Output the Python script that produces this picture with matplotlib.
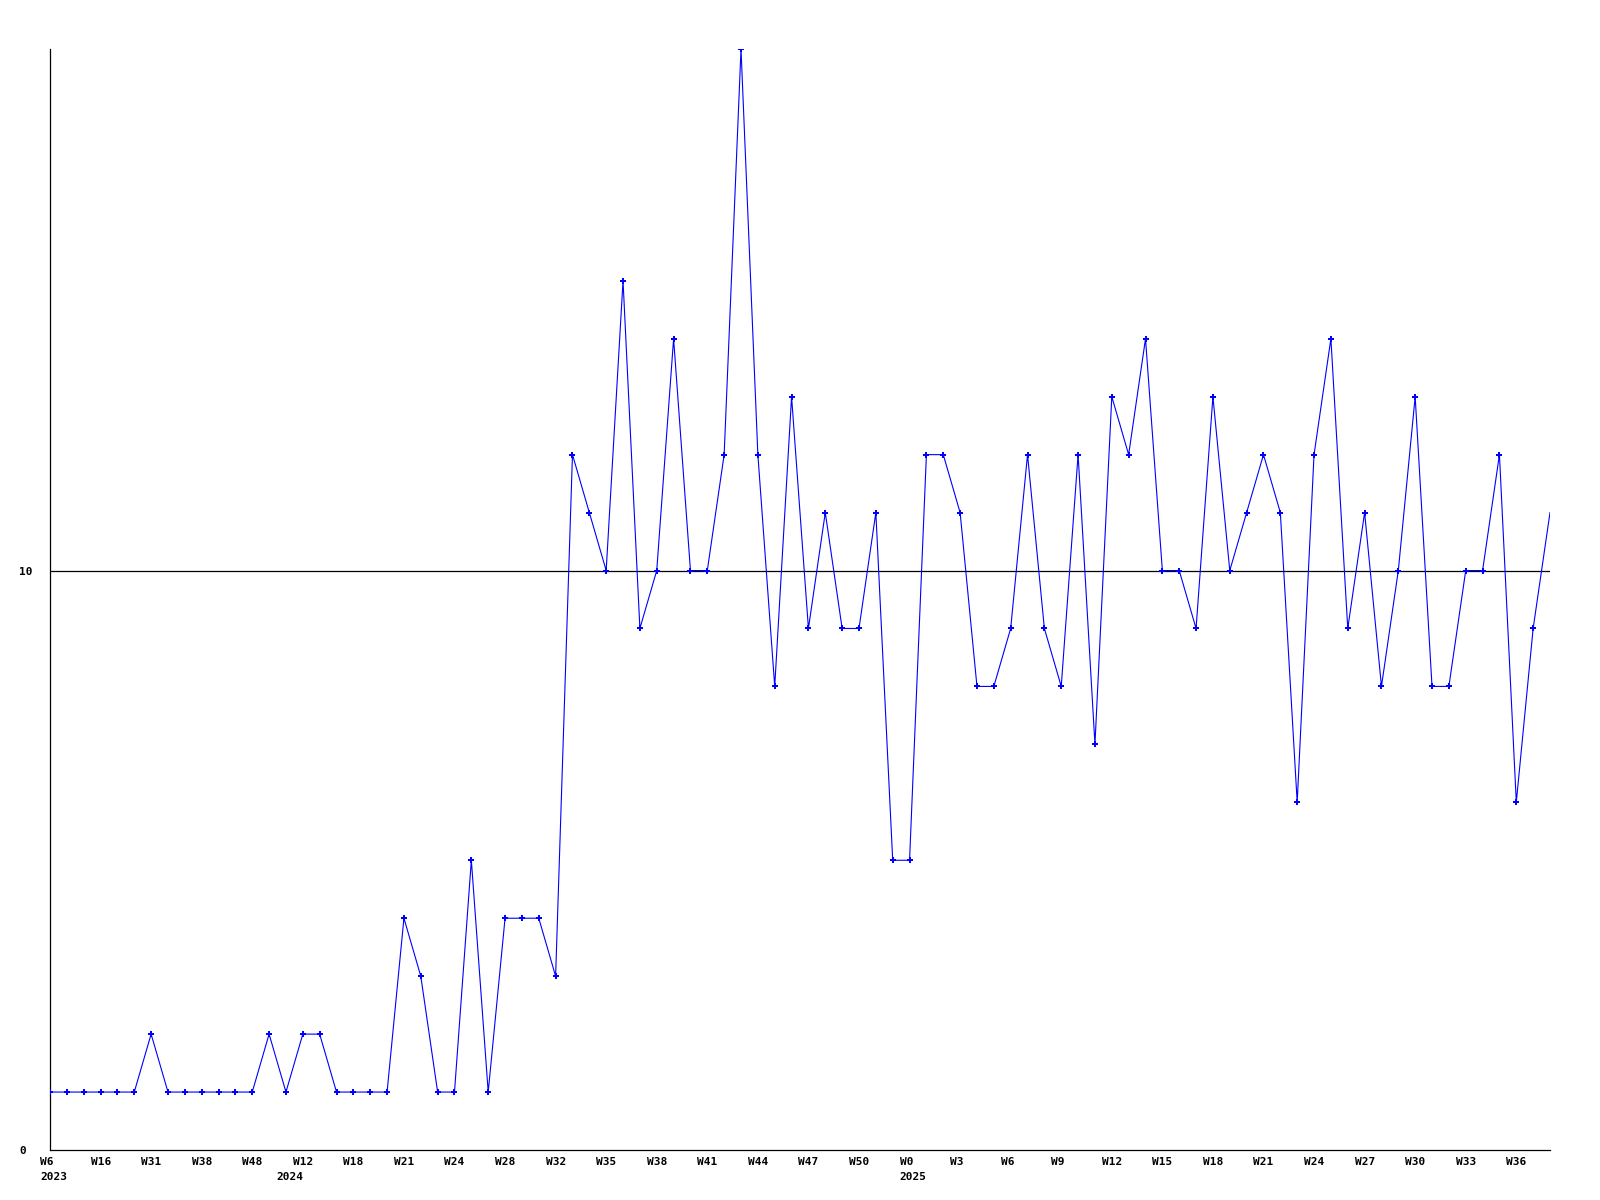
import matplotlib
matplotlib.use('Agg')
import matplotlib.pyplot as plt
import matplotlib.transforms as mtransforms

# weekly values, W6 2023 .. W38 2025
values = [1, 1, 1, 1, 1, 1, 2, 1, 1, 1,
          1, 1, 1, 2, 1, 2, 2, 1, 1, 1,
          1, 4, 3, 1, 1, 5, 1, 4, 4, 4,
          3, 12, 11, 10, 15, 9, 10, 14, 10, 10,
          12, 19, 12, 8, 13, 9, 11, 9, 9, 11,
          5, 5, 12, 12, 11, 8, 8, 9, 12, 9,
          8, 12, 7, 13, 12, 14, 10, 10, 9, 13,
          10, 11, 12, 11, 6, 12, 14, 9, 11, 8,
          10, 13, 8, 8, 10, 10, 12, 6, 9, 11]
x = list(range(len(values)))

tick_pos = list(range(0, 88, 3))
tick_labels = ['W6', 'W16', 'W31', 'W38', 'W48', 'W12', 'W18', 'W21',
               'W24', 'W28', 'W32', 'W35', 'W38', 'W41', 'W44', 'W47', 'W50',
               'W0', 'W3', 'W6', 'W9', 'W12', 'W15', 'W18', 'W21', 'W24',
               'W27', 'W30', 'W33', 'W36']
year_pos = [0, 14, 51]
year_labels = ['2023', '2024', '2025']

fig = plt.figure(figsize=(16, 12), dpi=100)
ax = fig.add_axes([50/1600, 1 - 1150/1200, 1500/1600, 1101/1200])

ax.axhline(10, color='black', linewidth=0.9, zorder=1)
ax.plot(x, values, color='#0000ff', linewidth=0.8, zorder=2)
ax.plot(x[:-1], values[:-1], linestyle='none', marker='P', markersize=4,
        color='#0000ff', markeredgewidth=0, zorder=3)

ax.set_xlim(0, len(values) - 1)
ax.set_ylim(0, 19)
for s in ['top', 'right']:
    ax.spines[s].set_visible(False)
ax.spines['left'].set_linewidth(0.9)
ax.spines['bottom'].set_linewidth(0.9)

fnt = dict(family='DejaVu Sans Mono', fontweight='bold', fontsize=8)
off = mtransforms.ScaledTranslation(-10/100, 0, fig.dpi_scale_trans)

ax.set_xticks(tick_pos)
ax.set_xticklabels(tick_labels, ha='left', va='top', **fnt)
ax.tick_params(axis='x', length=0, pad=5)
for lab in ax.get_xticklabels():
    lab.set_transform(lab.get_transform() + off)

# year labels on a second row
yr_trans = ax.get_xaxis_transform() + mtransforms.ScaledTranslation(-10/100, -22/100, fig.dpi_scale_trans)
for p, lab in zip(year_pos, year_labels):
    ax.text(p, 0, lab, transform=yr_trans, ha='left', va='top', **fnt)

ax.set_yticks([0, 10])
ax.set_yticklabels(['0', '10'], ha='left', **fnt)
ax.tick_params(axis='y', length=0, pad=22)

fig.savefig('out.png', dpi=100)
